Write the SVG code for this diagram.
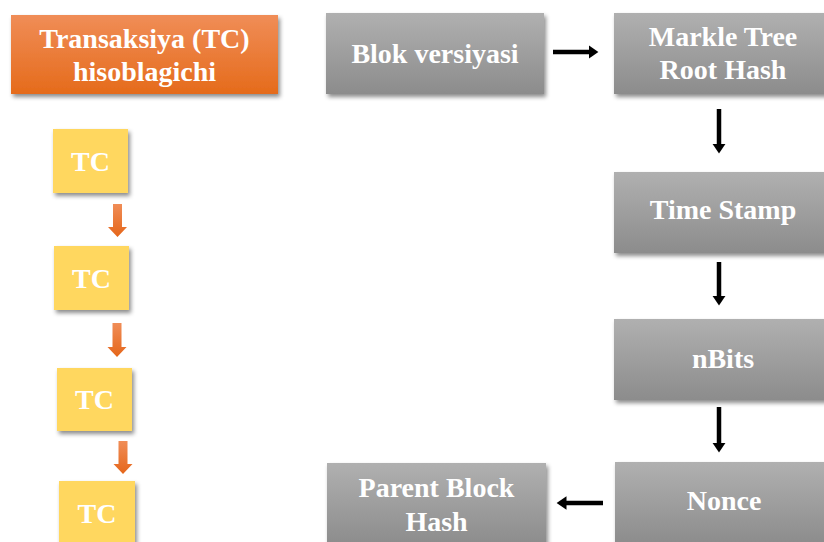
<svg xmlns="http://www.w3.org/2000/svg" width="824" height="542" viewBox="0 0 824 542">
<defs>
<linearGradient id="gGray" x1="0" y1="0" x2="0" y2="1">
<stop offset="0" stop-color="#b0b0b0"/>
<stop offset="1" stop-color="#8c8c8c"/>
</linearGradient>
<linearGradient id="gOrange" x1="0" y1="0" x2="0" y2="1">
<stop offset="0" stop-color="#f08d57"/>
<stop offset="1" stop-color="#e56b1b"/>
</linearGradient>
<linearGradient id="gArrow" x1="0" y1="0" x2="0" y2="1">
<stop offset="0" stop-color="#f08d57"/>
<stop offset="1" stop-color="#e5661a"/>
</linearGradient>
<filter id="sh" x="-10%" y="-10%" width="125%" height="135%">
<feDropShadow dx="2" dy="3" stdDeviation="2" flood-color="#000" flood-opacity="0.45"/>
</filter>
<marker id="ah" markerWidth="3" markerHeight="3" refX="1" refY="1.5" orient="auto" markerUnits="strokeWidth">
<path d="M0,0 L2.2,1.5 L0,3 Z" fill="#000"/>
</marker>
</defs>
<style>
.gray{fill:url(#gGray);filter:url(#sh)}
.orange{fill:url(#gOrange);filter:url(#sh)}
.tc{fill:#ffd75f;filter:url(#sh)}
.t{font-family:"Liberation Serif","Times New Roman",serif;font-weight:bold;font-size:28px;fill:#ffffff;text-anchor:middle}
.conn{stroke:#000;stroke-width:4.5;fill:none;marker-end:url(#ah)}
.oarrow{fill:url(#gArrow)}
</style>
<g id="node-counter">
<rect class="orange" x="11" y="15" width="267" height="79"/>
<text class="t" x="144.5" y="48">Transaksiya (TC)</text>
<text class="t" x="144.5" y="81">hisoblagichi</text>
</g>
<g id="node-tc1">
<rect class="tc" x="53" y="129" width="75" height="64"/>
<text class="t" x="90.5" y="171">TC</text>
</g>
<g id="node-tc2">
<rect class="tc" x="54" y="246" width="75" height="64"/>
<text class="t" x="91.5" y="288">TC</text>
</g>
<g id="node-tc3">
<rect class="tc" x="57" y="368" width="75" height="63"/>
<text class="t" x="94.5" y="409">TC</text>
</g>
<g id="node-tc4">
<rect class="tc" x="59" y="481" width="76" height="64"/>
<text class="t" x="97" y="523">TC</text>
</g>
<g id="node-blok">
<rect class="gray" x="326" y="13" width="218" height="81"/>
<text class="t" x="435" y="63">Blok versiyasi</text>
</g>
<g id="node-markle">
<rect class="gray" x="614" y="13" width="218" height="81"/>
<text class="t" x="723" y="46">Markle Tree</text>
<text class="t" x="723" y="79">Root Hash</text>
</g>
<g id="node-time">
<rect class="gray" x="614" y="172" width="218" height="81"/>
<text class="t" x="723" y="219">Time Stamp</text>
</g>
<g id="node-nbits">
<rect class="gray" x="614" y="319" width="218" height="81"/>
<text class="t" x="723" y="368">nBits</text>
</g>
<g id="node-nonce">
<rect class="gray" x="615" y="462" width="218" height="82"/>
<text class="t" x="724" y="510">Nonce</text>
</g>
<g id="node-parent">
<rect class="gray" x="327" y="463" width="219" height="82"/>
<text class="t" x="436.5" y="497">Parent Block</text>
<text class="t" x="436.5" y="531">Hash</text>
</g>
<g id="connectors">
<line class="conn" x1="553" y1="52" x2="593" y2="52"/>
<line class="conn" x1="719" y1="109" x2="719" y2="148"/>
<line class="conn" x1="719" y1="262" x2="719" y2="300"/>
<line class="conn" x1="719" y1="407" x2="719" y2="447"/>
<line class="conn" x1="603" y1="503" x2="562" y2="503"/>
<path class="oarrow" d="M113,204 H122 V227 H127 L117.5,237 L108,227 H113 Z"/>
<path class="oarrow" d="M112.5,323 H121.5 V347 H126.5 L117,357 L107.5,347 H112.5 Z"/>
<path class="oarrow" d="M118.5,441 H127.5 V464 H132.5 L123,474 L113.5,464 H118.5 Z"/>
</g>
</svg>
